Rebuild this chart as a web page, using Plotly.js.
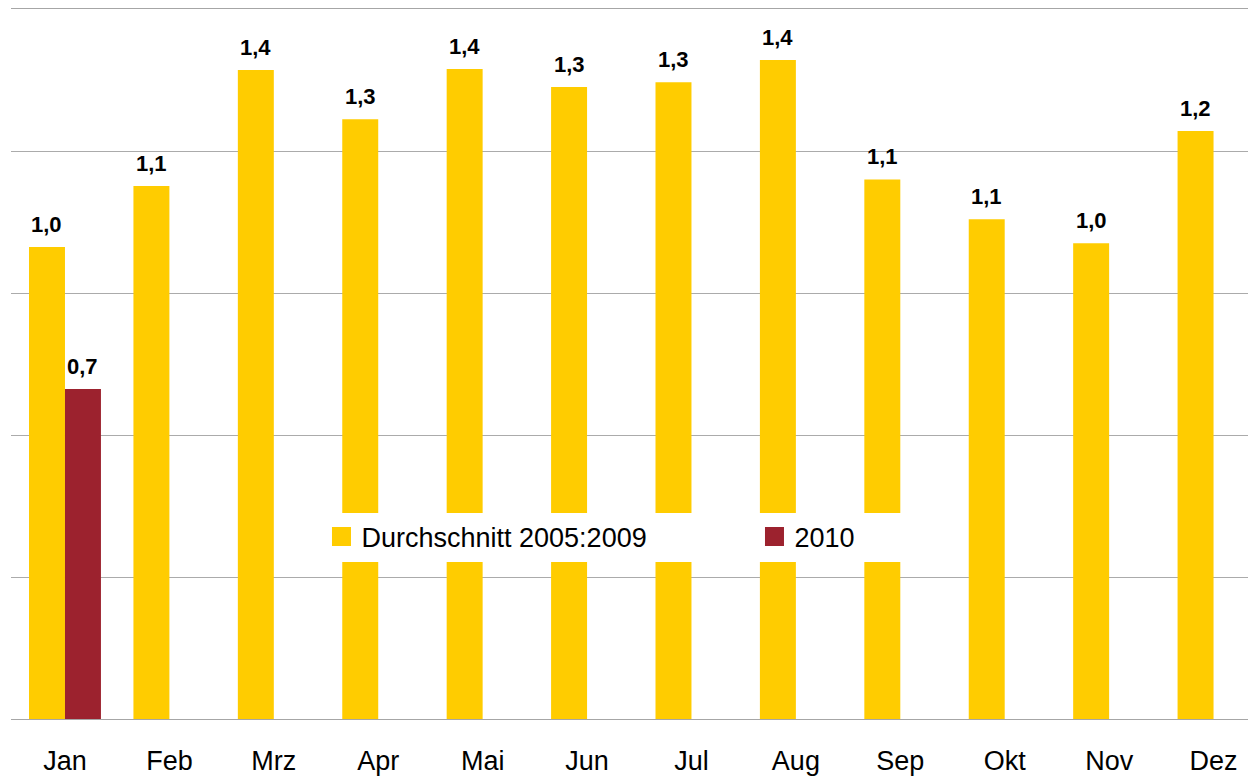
<!DOCTYPE html>
<html>
<head>
<meta charset="utf-8">
<script src="https://cdn.plot.ly/plotly-3.0.1.min.js"></script>
<style>
  body { margin: 0; background: #fff; }
  #chart { width: 1248px; height: 776px; }
</style>
</head>
<body>
<div id="chart"></div>
<script>
var months = ['Jan', 'Feb', 'Mrz', 'Apr', 'Mai', 'Jun', 'Jul', 'Aug', 'Sep', 'Okt', 'Nov', 'Dez'];
var avgValues = [0.997, 1.126, 1.371, 1.267, 1.373, 1.335, 1.345, 1.392, 1.140, 1.056, 1.005, 1.242];
var values2010 = [0.697, null, null, null, null, null, null, null, null, null, null, null];
var avgName = 'Durchschnitt 2005:2009';
var name2010 = '2010';

var font = 'Liberation Sans, Arial, sans-serif';
var barHalf = 18; // half of one bar in px, used to shift the value labels

function fmt(v) {
  return v.toFixed(1).replace('.', ',');
}

var traces = [
  {
    type: 'bar', name: avgName, x: months, y: avgValues,
    marker: {color: '#FFCC00'}, legendwidth: 388, hoverinfo: 'skip'
  },
  {
    type: 'bar', name: name2010, x: months, y: values2010,
    marker: {color: '#9C222E'}, legendwidth: 120, hoverinfo: 'skip'
  }
];

var annotations = [];
for (var i = 0; i < months.length; i++) {
  if (avgValues[i] != null) {
    annotations.push({x: months[i], y: avgValues[i], text: fmt(avgValues[i]), xshift: -barHalf,
      yshift: 23, showarrow: false, font: {family: font, size: 22, color: '#000', weight: 'bold'}});
  }
  if (values2010[i] != null) {
    annotations.push({x: months[i], y: values2010[i], text: fmt(values2010[i]), xshift: barHalf,
      yshift: 23, showarrow: false, font: {family: font, size: 22, color: '#000', weight: 'bold'}});
  }
}

var layout = {
  width: 1248, height: 776,
  margin: {l: 11, r: 0, t: 9, b: 57},
  paper_bgcolor: '#fff', plot_bgcolor: '#fff',
  barmode: 'group', bargap: 0.311, bargroupgap: 0,
  font: {family: font, color: '#000'},
  xaxis: {
    range: [-0.517, 11.33], showgrid: false, zeroline: false,
    showline: true, mirror: true, linecolor: '#A6A6A6', linewidth: 1,
    ticks: 'outside', ticklen: 18, tickcolor: 'rgba(0,0,0,0)',
    tickfont: {size: 27, color: '#000'}
  },
  yaxis: {
    range: [0, 1.5], dtick: 0.3, showticklabels: false,
    gridcolor: '#ABABAB', gridwidth: 1, zeroline: false
  },
  showlegend: true,
  legend: {
    orientation: 'h', x: 0.251, xanchor: 'left', y: 0.2563, yanchor: 'middle',
    bgcolor: '#fff', font: {size: 27, color: '#000'}, itemwidth: 30,
    traceorder: 'normal'
  },
  annotations: annotations
};

Plotly.newPlot('chart', traces, layout, {staticPlot: true}).then(function () {
  // bigger legend squares like the original
  var pts = document.querySelectorAll('.legendpoints path');
  for (var k = 0; k < pts.length; k++) {
    pts[k].setAttribute('d', 'M9.5,9.5H-9.5V-9.5H9.5Z');
  }
});
</script>
</body>
</html>
